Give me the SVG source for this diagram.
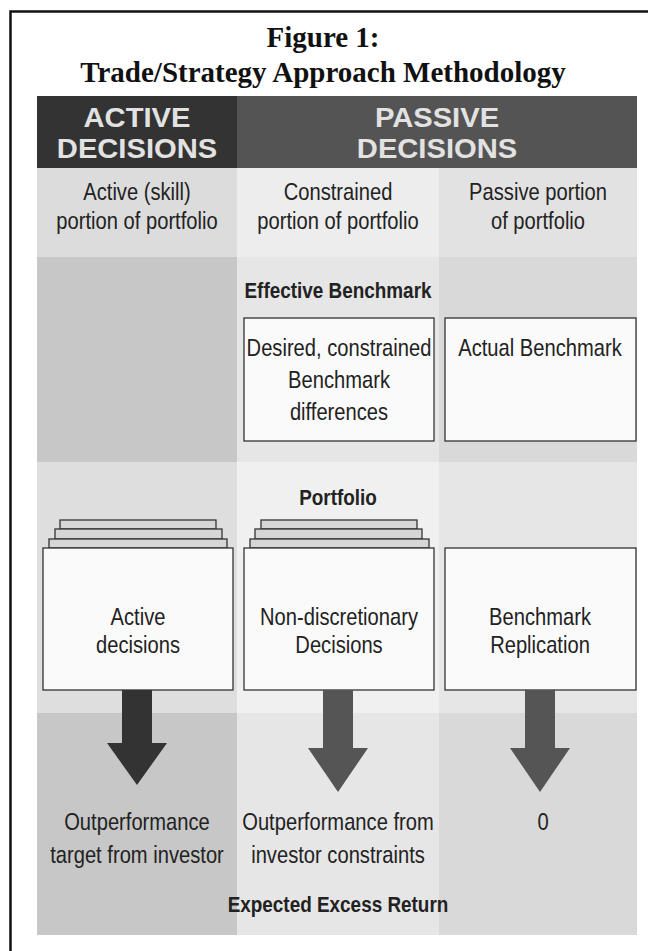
<svg xmlns="http://www.w3.org/2000/svg" width="648" height="951" viewBox="0 0 648 951">
<style>
.title{font-family:"Liberation Serif","Times New Roman",serif;font-weight:bold;font-size:29px;fill:#111;text-anchor:middle}
.hdr{font-family:"Liberation Sans",Arial,sans-serif;font-weight:bold;font-size:27px;fill:#e2e2e2;text-anchor:middle}
.t{font-family:"Liberation Sans",Arial,sans-serif;font-size:24px;fill:#222;text-anchor:middle}
.b{font-family:"Liberation Sans",Arial,sans-serif;font-weight:bold;font-size:22px;fill:#222;text-anchor:middle}
.box{fill:#fafafa;stroke:#333;stroke-width:1.3}
.tab{fill:#d6d6d6;stroke:#333;stroke-width:1.3}
.a1{fill:#333}
.a2{fill:#555}
</style>
<rect x="0" y="0" width="648" height="951" fill="#fff"/>
<path d="M10.5 951 V11.5 H648" fill="none" stroke="#111" stroke-width="2.5"/>
<g id="title">
<text class="title" x="323" y="47">Figure 1:</text>
<text class="title" x="323" y="82">Trade/Strategy Approach Methodology</text>
</g>
<g id="bands">
<rect x="37" y="96" width="200" height="72" fill="#333"/>
<rect x="237" y="96" width="400" height="72" fill="#545454"/>
<rect x="37" y="168" width="200" height="89" fill="#dcdcdc"/>
<rect x="237" y="168" width="202" height="89" fill="#ededed"/>
<rect x="439" y="168" width="198" height="89" fill="#e2e2e2"/>
<rect x="37" y="257" width="200" height="205" fill="#c7c7c7"/>
<rect x="237" y="257" width="202" height="205" fill="#e6e6e6"/>
<rect x="439" y="257" width="198" height="205" fill="#d9d9d9"/>
<rect x="37" y="462" width="200" height="251" fill="#dedede"/>
<rect x="237" y="462" width="202" height="251" fill="#f0f0f0"/>
<rect x="439" y="462" width="198" height="251" fill="#e6e6e6"/>
<rect x="37" y="713" width="200" height="222" fill="#c7c7c7"/>
<rect x="237" y="713" width="202" height="222" fill="#e6e6e6"/>
<rect x="439" y="713" width="198" height="222" fill="#d9d9d9"/>
</g>
<g id="header-active">
<text class="hdr" transform="translate(137 127) scale(1.08 1)">ACTIVE</text>
<text class="hdr" transform="translate(137 158) scale(1.08 1)">DECISIONS</text>
</g>
<g id="header-passive">
<text class="hdr" transform="translate(437 127) scale(1.08 1)">PASSIVE</text>
<text class="hdr" transform="translate(437 158) scale(1.08 1)">DECISIONS</text>
</g>
<g id="sub-active">
<text class="t" transform="translate(137 200) scale(0.84 1)">Active (skill)</text>
<text class="t" transform="translate(137 229) scale(0.84 1)">portion of portfolio</text>
</g>
<g id="sub-constrained">
<text class="t" transform="translate(338 200) scale(0.84 1)">Constrained</text>
<text class="t" transform="translate(338 229) scale(0.84 1)">portion of portfolio</text>
</g>
<g id="sub-passive">
<text class="t" transform="translate(538 200) scale(0.84 1)">Passive portion</text>
<text class="t" transform="translate(538 229) scale(0.84 1)">of portfolio</text>
</g>
<g id="label-effective">
<text class="b" transform="translate(338 298) scale(0.86 1)">Effective Benchmark</text>
</g>
<g id="box-desired">
<rect class="box" x="244" y="318" width="190" height="123"/>
<text class="t" transform="translate(339 356) scale(0.84 1)">Desired, constrained</text>
<text class="t" transform="translate(339 388) scale(0.84 1)">Benchmark</text>
<text class="t" transform="translate(339 420) scale(0.84 1)">differences</text>
</g>
<g id="box-actual">
<rect class="box" x="445" y="318" width="191" height="123"/>
<text class="t" transform="translate(540 356) scale(0.84 1)">Actual Benchmark</text>
</g>
<g id="label-portfolio">
<text class="b" transform="translate(338 505) scale(0.86 1)">Portfolio</text>
</g>
<g id="box-active">
<rect class="tab" x="60" y="520" width="156" height="9"/>
<rect class="tab" x="55" y="529" width="167" height="10"/>
<rect class="tab" x="49" y="539" width="178" height="9"/>
<rect class="box" x="43" y="548" width="190" height="142"/>
<text class="t" transform="translate(138 625) scale(0.84 1)">Active</text>
<text class="t" transform="translate(138 653) scale(0.84 1)">decisions</text>
</g>
<g id="box-nondisc">
<rect class="tab" x="261" y="520" width="156" height="9"/>
<rect class="tab" x="255" y="529" width="167" height="10"/>
<rect class="tab" x="250" y="539" width="179" height="9"/>
<rect class="box" x="244" y="548" width="190" height="142"/>
<text class="t" transform="translate(339 625) scale(0.84 1)">Non-discretionary</text>
<text class="t" transform="translate(339 653) scale(0.84 1)">Decisions</text>
</g>
<g id="box-replication">
<rect class="box" x="445" y="548" width="191" height="142"/>
<text class="t" transform="translate(540 625) scale(0.84 1)">Benchmark</text>
<text class="t" transform="translate(540 653) scale(0.84 1)">Replication</text>
</g>
<g id="connectors">
<path class="a1" d="M122 690 H152 V743 H167 L137 785 L107 743 H122 Z"/>
<path class="a2" d="M323 690 H353 V748 H368 L338 792 L308 748 H323 Z"/>
<path class="a2" d="M525 690 H555 V748 H570 L540 792 L510 748 H525 Z"/>
</g>
<g id="result-active">
<text class="t" transform="translate(137 830) scale(0.84 1)">Outperformance</text>
<text class="t" transform="translate(137 863) scale(0.84 1)">target from investor</text>
</g>
<g id="result-constrained">
<text class="t" transform="translate(338 830) scale(0.84 1)">Outperformance from</text>
<text class="t" transform="translate(338 863) scale(0.84 1)">investor constraints</text>
</g>
<g id="result-passive">
<text class="t" transform="translate(543 830) scale(0.84 1)">0</text>
</g>
<g id="label-expected">
<text class="b" transform="translate(338 912) scale(0.86 1)">Expected Excess Return</text>
</g>
</svg>
